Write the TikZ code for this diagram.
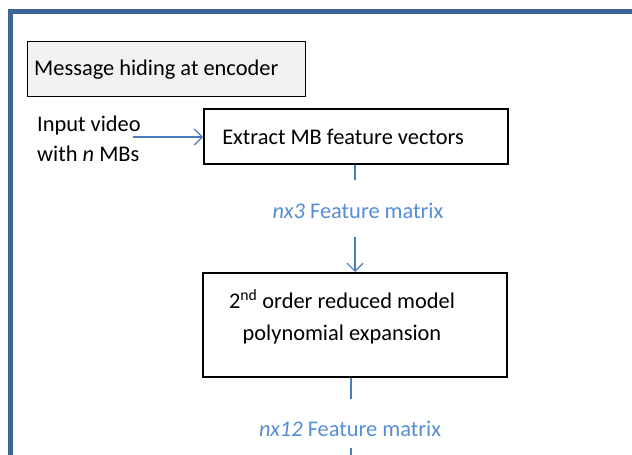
\documentclass[tikz,border=0pt]{standalone}
\usepackage{fontspec}
\setmainfont{Carlito}
\usetikzlibrary{arrows.meta}
\definecolor{framec}{HTML}{3D6597}
\definecolor{linec}{HTML}{4A7EBB}
\definecolor{labc}{HTML}{558ED5}
\definecolor{titlefill}{HTML}{F2F2F2}
\begin{document}
\begin{tikzpicture}[x=1pt,y=-1pt,
  txt/.style={font=\fontsize{22.4}{30}\selectfont},
  procbox/.style={draw=black,line width=1.6pt,fill=white,minimum width=304pt},
  flow/.style={draw=linec,line width=1.2pt},
  lab/.style={text=labc,txt,inner sep=0pt}]
\useasboundingbox (0,0) rectangle (632,455);
\fill[white] (0,0) rectangle (632,455);
% outer frame
\draw[framec,line width=5pt] (10.5,470) -- (10.5,11) -- (650,11);
% title
\node[draw=black,line width=1.3pt,fill=titlefill,minimum width=278pt,minimum height=55pt,anchor=north west,inner sep=0pt] (title) at (27,41) {};
\node[txt,anchor=west,inner sep=0pt] (titletext) at (34,70) {Message hiding at encoder};
% input text
\node[txt,align=left,anchor=west,inner sep=0pt] (input) at (37,139) {Input video\\with \textit{n} MBs};
% box1
\node[procbox,minimum height=55pt,anchor=north west] (b1) at (203,108) {};
\node[txt,inner sep=0pt] (b1t) at (343,137) {Extract MB feature vectors};
% box2
\node[procbox,minimum height=104pt,anchor=north west] (b2) at (202,272) {};
\node[txt,align=center,inner sep=0pt,font=\fontsize{22.4}{32}\selectfont] (b2t) at (342,317) {2\textsuperscript{nd} order reduced model\\polynomial expansion};
% labels
\node[lab] (l1) at (358,211) {\textit{nx3} Feature matrix};
\node[lab] (l2) at (350,429) {\textit{nx12} Feature matrix};
\coordinate (c1) at (355,180);
\coordinate (c2) at (355,237);
\coordinate (c3) at (351,399);
\coordinate (c4) at (351,448);
\coordinate (c5) at (351,460);
\coordinate (a0) at (133,137);
% connectors
\draw[flow,-{Straight Barb[length=8pt,width=16pt,line width=1.2pt]}] (a0) -- (a0 -| b1.west);
\draw[flow] (b1.south -| c1) -- (c1);
\draw[flow,-{Straight Barb[length=8pt,width=16pt,line width=1.2pt]}] (c2) -- (c2 |- b2.north);
\draw[flow] (b2.south -| c3) -- (c3);
\draw[flow] (c4) -- (c5);
\end{tikzpicture}
\end{document}
